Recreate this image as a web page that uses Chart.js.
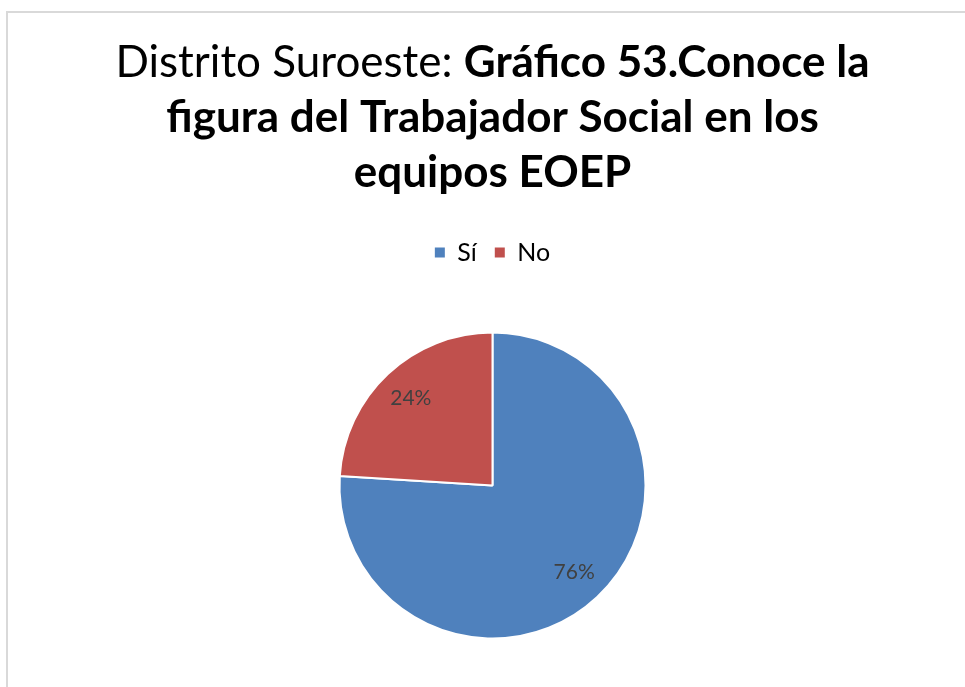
<!DOCTYPE html>
<html>
<head>
<meta charset="utf-8">
<style>
  html, body { margin: 0; padding: 0; background: #fff; overflow: hidden; }
  #wrap { position: relative; width: 965px; height: 687px; }
</style>
<script src="https://cdn.jsdelivr.net/npm/chart.js@4/dist/chart.umd.min.js"></script>
</head>
<body>
<div id="wrap"><canvas id="chart" width="965" height="687"></canvas></div>
<script>
// Chart data
const categories = ['Sí', 'No'];
const percentages = [76, 24];
const sliceColors = ['#4F81BD', '#C0504D'];

// Title: plain lead-in followed by the bold chart caption, split into lines
const titleLead = 'Distrito Suroeste: ';
const titleLines = [
  'Gráfico 53.Conoce la',
  'figura del Trabajador Social en los',
  'equipos EOEP'
];

const FONT = 'Lato, "Open Sans", sans-serif';
Chart.defaults.font.family = FONT;

// Builds a plain top layout box of fixed height
function makeTopBox(weight, getHeight, drawFn) {
  return {
    position: 'top', weight: weight, fullSize: true,
    options: { position: 'top', weight: weight, fullSize: true, display: true },
    left: 0, top: 0, right: 0, bottom: 0, width: 0, height: 0,
    isHorizontal() { return true; },
    getPadding() { return { top: 0, left: 0, right: 0, bottom: 0 }; },
    update(maxWidth) {
      this.width = maxWidth;
      this.height = getHeight();
      this.left = 0; this.right = maxWidth;
    },
    draw() { if (drawFn) drawFn(this); }
  };
}

// White card with a light grey frame
const framePlugin = {
  id: 'frame',
  beforeDraw(chart) {
    const ctx = chart.ctx;
    ctx.save();
    ctx.fillStyle = '#ffffff';
    ctx.fillRect(0, 0, chart.width, chart.height);
    ctx.strokeStyle = '#d9d9d9';
    ctx.lineWidth = 2;
    ctx.strokeRect(7, 12, chart.width + 20, chart.height + 20);
    ctx.restore();
  }
};

// Layout box that draws the mixed-weight title above the legend
const richTitlePlugin = {
  id: 'richTitle',
  beforeInit(chart, args, opts) {
    const box = makeTopBox(2000, () => opts.height, (b) => {
      const ctx = chart.ctx;
      const cx = (b.left + b.right) / 2;
      const size = opts.size;
      const normal = `400 ${size}px ${FONT}`;
      const bold = `700 ${size}px ${FONT}`;
      ctx.save();
      ctx.fillStyle = '#000000';
      ctx.textBaseline = 'alphabetic';
      ctx.textAlign = 'left';
      titleLines.forEach((line, i) => {
        const y = b.top + opts.baselines[i];
        let leadW = 0;
        if (i === 0) { ctx.font = normal; leadW = ctx.measureText(titleLead).width; }
        ctx.font = bold;
        const boldW = ctx.measureText(line).width;
        let x = cx - (leadW + boldW) / 2;
        if (i === 0) { ctx.font = normal; ctx.fillText(titleLead, x, y); x += leadW; }
        ctx.font = bold;
        ctx.fillText(line, x, y);
      });
      ctx.restore();
    });
    Chart.layouts.addBox(chart, box);
  }
};

// Empty layout box that keeps a gap between the legend and the pie
const legendGapPlugin = {
  id: 'legendGap',
  beforeInit(chart, args, opts) {
    Chart.layouts.addBox(chart, makeTopBox(500, () => opts.height, null));
  }
};

// Percentage labels inside each slice
const sliceLabelPlugin = {
  id: 'sliceLabels',
  afterDatasetsDraw(chart, args, opts) {
    const ctx = chart.ctx;
    const meta = chart.getDatasetMeta(0);
    const values = chart.data.datasets[0].data;
    ctx.save();
    ctx.fillStyle = opts.color;
    ctx.font = `400 ${opts.size}px ${FONT}`;
    ctx.textAlign = 'center';
    ctx.textBaseline = 'middle';
    meta.data.forEach((arc, i) => {
      const p = arc.getProps(['x', 'y', 'startAngle', 'endAngle', 'outerRadius'], true);
      const mid = (p.startAngle + p.endAngle) / 2;
      const r = p.outerRadius * opts.radiusFraction;
      ctx.fillText(values[i] + '%', p.x + Math.cos(mid) * r, p.y + Math.sin(mid) * r);
    });
    ctx.restore();
  }
};

const pieLegendLabels = Chart.PieController.overrides.plugins.legend.labels.generateLabels;

new Chart(document.getElementById('chart'), {
  type: 'pie',
  data: {
    labels: categories,
    datasets: [{
      data: percentages,
      backgroundColor: sliceColors,
      borderColor: '#ffffff',
      borderWidth: 2,
      hoverOffset: 0
    }]
  },
  plugins: [framePlugin, richTitlePlugin, legendGapPlugin, sliceLabelPlugin],
  options: {
    responsive: false,
    animation: false,
    events: [],
    layout: { padding: { top: 0, left: 30, right: 10, bottom: 47.5 } },
    plugins: {
      richTitle: { height: 222, size: 44, baselines: [77, 132, 187] },
      legendGap: { height: 56.5 },
      sliceLabels: { color: '#404040', size: 21, radiusFraction: 0.78 },
      legend: {
        position: 'top',
        labels: {
          boxWidth: 10,
          boxHeight: 10,
          padding: 18,
          color: '#000000',
          font: { size: 25 },
          // solid legend squares without the white slice outline
          generateLabels(chart) {
            return pieLegendLabels(chart).map(item => Object.assign(item, { lineWidth: 0 }));
          }
        }
      },
      tooltip: { enabled: false }
    }
  }
});
</script>
</body>
</html>
